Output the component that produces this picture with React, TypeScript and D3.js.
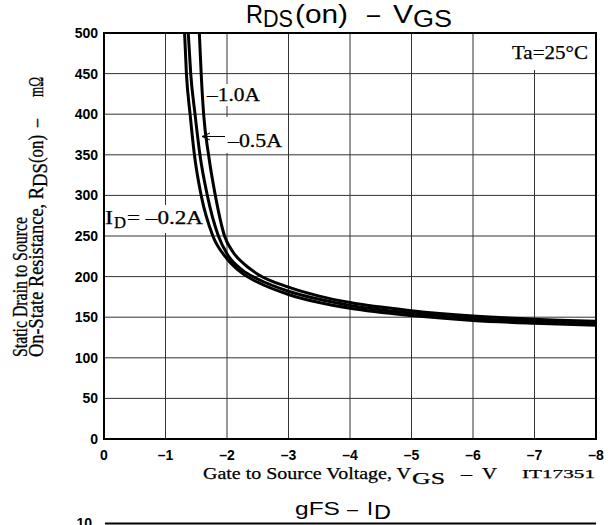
import React from 'react';
import * as d3 from 'd3';

// axis ticks
const xTicks = [0, -1, -2, -3, -4, -5, -6, -7, -8];
const yTicks = [0, 50, 100, 150, 200, 250, 300, 350, 400, 450, 500];

// I_D = -0.2A
const vgs02 = [-1.31, -1.34, -1.4, -1.47, -1.58, -1.77, -2.0, -2.25, -2.5, -3, -3.5, -4, -5, -6, -7, -8];
const rds02 = [500, 450, 400, 350, 300, 250, 222, 204, 193, 178, 168, 161, 152, 146, 142.5, 140];
// I_D = -0.5A
const vgs05 = [-1.37, -1.41, -1.48, -1.56, -1.68, -1.86, -2.0, -2.25, -2.5, -3, -3.5, -4, -5, -6, -7, -8];
const rds05 = [500, 450, 400, 350, 300, 250, 228, 208, 197, 182, 172, 164.5, 155, 148.5, 145, 142.5];
// I_D = -1.0A
const vgs10 = [-1.55, -1.58, -1.62, -1.7, -1.81, -1.96, -2.1, -2.3, -2.5, -3, -3.5, -4, -5, -6, -7, -8];
const rds10 = [500, 450, 400, 350, 300, 250, 230, 214, 203, 187, 176, 168, 158, 151.5, 147.5, 145];

const SANS = "'Liberation Sans', Arial, sans-serif";
const SERIF = "'Liberation Serif', 'Times New Roman', serif";

const W = 608;
const H = 525;
const L = 104, R = 596, T = 33, B = 439;

const fmtX = (v: number) => (v === 0 ? '0' : '\u2013' + Math.abs(v));

// rotated label piece, widened across the baseline like the scan
const rot = (x: number, y: number) => `translate(${x},${y}) scale(1.25,1) rotate(-90)`;

export default function App() {
  const x = d3.scaleLinear().domain([0, -8]).range([L, R]);
  const y = d3.scaleLinear().domain([0, 500]).range([B, T]);

  const line = d3
    .line<[number, number]>()
    .x((d) => x(d[0]))
    .y((d) => y(d[1]))
    .curve(d3.curveMonotoneX);

  const curves = [
    d3.zip(vgs02, rds02) as [number, number][],
    d3.zip(vgs05, rds05) as [number, number][],
    d3.zip(vgs10, rds10) as [number, number][],
  ];

  const ink = { stroke: '#000', strokeWidth: 0.25 };
  const fit = { lengthAdjust: 'spacingAndGlyphs' as const };

  return (
    <svg
      width={W}
      height={H}
      style={{ position: 'fixed', left: 0, top: 0, background: '#fff' }}
    >
      <defs>
        <clipPath id="plot">
          <rect x={L} y={T} width={R - L} height={B - T} />
        </clipPath>
      </defs>
      <rect width={W} height={H} fill="#fff" />

      {/* title */}
      <g fontFamily={SANS} fontSize={25} fill="#000">
        <text x={246} y={23} textLength={17} {...fit}>R</text>
        <text x={263} y={27} fontSize={23} textLength={30} {...fit}>DS</text>
        <text x={295} y={23} textLength={53} {...fit}>(on)</text>
        <text x={367} y={23} textLength={13} {...fit}>{'\u2013'}</text>
        <text x={393} y={23} textLength={20} {...fit}>V</text>
        <text x={413} y={27} fontSize={23} textLength={39} {...fit}>GS</text>
      </g>

      {/* grid */}
      <g stroke="#333" strokeWidth={1}>
        {xTicks.slice(1, -1).map((v) => (
          <line key={'gx' + v} x1={x(v)} x2={x(v)} y1={T} y2={B} />
        ))}
        {yTicks.slice(1, -1).map((v) => (
          <line key={'gy' + v} x1={L} x2={R} y1={y(v)} y2={y(v)} />
        ))}
      </g>

      {/* label backgrounds */}
      <g fill="#fff">
        <rect x={507} y={T + 1} width={87} height={36} />
        <rect x={205} y={84} width={60} height={22} />
        <rect x={224} y={117} width={62} height={36} />
        <rect x={106} y={205} width={99} height={28} />
      </g>

      {/* curves */}
      <g clipPath="url(#plot)" fill="none" stroke="#000" strokeWidth={3}>
        {curves.map((c, i) => (
          <path key={i} d={line(c) || ''} />
        ))}
      </g>

      {/* frame */}
      <rect x={L} y={T} width={R - L} height={B - T} fill="none" stroke="#000" strokeWidth={2} />

      {/* ticks */}
      <g fontFamily={SANS} fontWeight="bold" fontSize={14} fill="#000">
        {yTicks.map((v) => (
          <text key={'ty' + v} x={L - 6} y={y(v) + 5} textAnchor="end">
            {v}
          </text>
        ))}
        {xTicks.map((v) => (
          <text key={'tx' + v} x={x(v)} y={460} textAnchor="middle">
            {fmtX(v)}
          </text>
        ))}
      </g>

      {/* annotations */}
      <g fontFamily={SERIF} fill="#000" {...ink}>
        <text x={512} y={59} fontSize={18} textLength={76} {...fit}>Ta=25°C</text>
        <text x={207} y={101} fontSize={18} textLength={53} {...fit}>{'\u20131.0A'}</text>
        <text x={228} y={147} fontSize={18} textLength={54} {...fit}>{'\u20130.5A'}</text>
        <text x={105} y={224} fontSize={18} textLength={8} {...fit}>I</text>
        <text x={114} y={228} fontSize={16} textLength={12} {...fit}>D</text>
        <text x={127} y={224} fontSize={18} textLength={76} {...fit}>{'= \u20130.2A'}</text>
      </g>
      <g stroke="#000" strokeWidth={1} fill="none">
        <line x1={202} y1={136.5} x2={225} y2={136.5} />
        <polyline points="210,133 202,136.5 210,140" />
      </g>

      {/* x axis title */}
      <g fontFamily={SERIF} fontSize={17} fill="#000" {...ink}>
        <text x={203} y={479} textLength={208} {...fit}>Gate to Source Voltage, V</text>
        <text x={412} y={484} textLength={33} {...fit}>GS</text>
        <text x={461} y={479} textLength={11} {...fit}>{'\u2013'}</text>
        <text x={482} y={479} textLength={15} {...fit}>V</text>
        <text x={522} y={478} fontSize={13} textLength={73} {...fit}>IT17351</text>
      </g>

      {/* y axis title */}
      <g fontFamily={SERIF} fontSize={16} fill="#000" {...ink}>
        <text transform={rot(27, 357)} textLength={140} {...fit}>Static Drain to Source</text>
        <text transform={rot(43, 357)} textLength={170} {...fit}>On-State Resistance, R</text>
        <text transform={rot(47, 187)} textLength={24} {...fit}>DS</text>
        <text transform={rot(43, 163)} textLength={28} {...fit}>(on)</text>
        <text transform={rot(43, 127)} textLength={8} {...fit}>{'\u2013'}</text>
        <text transform={rot(43, 97)} textLength={20} {...fit}>{'m\u03a9'}</text>
      </g>

      {/* top of next chart */}
      <g fontFamily={SANS} fontSize={19} fill="#000">
        <text x={295} y={515} textLength={45} {...fit}>gFS</text>
        <text x={347} y={515} textLength={11} {...fit}>{'\u2013'}</text>
        <text x={367} y={515} textLength={6} {...fit}>I</text>
        <text x={374} y={519} fontSize={20} textLength={17} {...fit}>D</text>
      </g>
      <text x={92} y={528} textAnchor="end" fontFamily={SANS} fontWeight="bold" fontSize={14}>
        10
      </text>
      <line x1={105} x2={R} y1={523.5} y2={523.5} stroke="#000" strokeWidth={2} />
    </svg>
  );
}
